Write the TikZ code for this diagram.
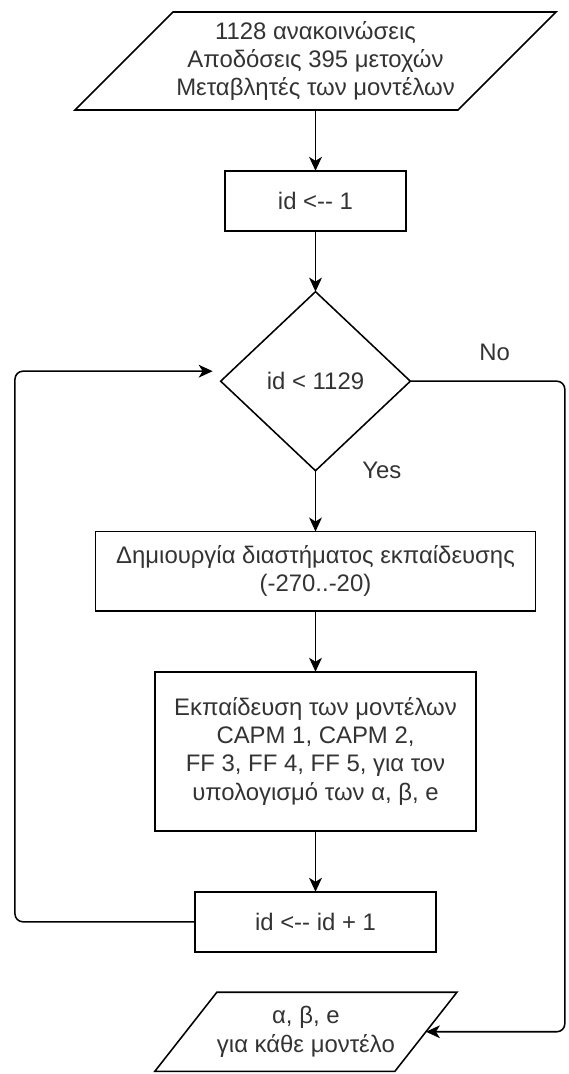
\documentclass[tikz,border=0pt]{standalone}
\usepackage{fontspec}
\setmainfont{Liberation Sans}
\usetikzlibrary{shapes.geometric, arrows.meta, positioning, calc}
\definecolor{darktext}{RGB}{51, 51, 51}
\definecolor{strokeline}{RGB}{0, 0, 0}
\newcommand{\ioframe}[2]{%
  \draw[shapeline] ($(#1.north west)+(#2,0)$) -- ($(#1.north east)+(#2,0)$)
    -- ($(#1.south east)+(-#2,0)$) -- ($(#1.south west)+(-#2,0)$) -- cycle;}

\begin{document}
\begin{tikzpicture}[x=0.025cm, y=-0.025cm, node distance=1.52cm,
    every node/.style={font=\fontsize{17}{20}\selectfont, text=darktext, align=center},
    shapeline/.style={draw=strokeline, line width=1.1pt},
    procbox/.style={rectangle, shapeline, inner sep=0pt, outer sep=0pt},
    iobox/.style={rectangle, inner sep=0pt, outer sep=0pt},
    decision/.style={diamond, shapeline, inner sep=0pt, outer sep=0pt},
    flow/.style={draw=strokeline, line width=1.1pt, -{Stealth[length=0.35cm, width=0.32cm, inset=0.1cm]}},
    lbl/.style={inner sep=0pt}]
    \useasboundingbox (0,0) rectangle (568,1074);

    \node[iobox, minimum width=9.575cm, minimum height=2.45cm] (in) at (315.5,61) {
        1128 ανακοινώσεις\\Αποδόσεις 395 μετοχών\\Μεταβλητές των μοντέλων};
    \node[procbox, minimum width=4.52cm, minimum height=1.5cm, below=of in] (init) {id <-{}- 1};
    \node[decision, minimum width=4.74cm, minimum height=4.475cm, below=of init] (dec) {id < 1129};
    \node[procbox, minimum width=11cm, minimum height=1.985cm, below=of dec] (win) {
        Δημιουργία διαστήματος εκπαίδευσης\\(-270..-20)};
    \node[procbox, minimum width=8.025cm, minimum height=3.98cm, below=of win] (train) {
        Εκπαίδευση των μοντέλων\\CAPM 1, CAPM 2,\\FF 3, FF 4, FF 5, για τον\\υπολογισμό των α, β, e};
    \node[procbox, minimum width=6.025cm, minimum height=1.5cm, below=of train] (inc) {id <-{}- id + 1};
    \node[iobox, minimum width=6cm, minimum height=1.975cm, below=1.01cm of inc, xshift=-0.24cm] (out) {
        α, β, e\\για κάθε μοντέλο};
    \ioframe{in}{49}
    \ioframe{out}{31}

    % flow
    \draw[flow] (in) -- (init);
    \draw[flow] (init) -- (dec);
    \draw[flow] (dec) -- (win) node[lbl, pos=0, anchor=west, xshift=1.15cm] {Yes};
    \draw[flow] (win) -- (train);
    \draw[flow] (train) -- (inc);
    \draw[flow, rounded corners=0.2cm] (inc.west) -- ++(-180,0) |- ($(dec.west)+(-8,-10)$);
    \draw[flow, rounded corners=0.2cm] (dec.east) -- ++(154.5,0) node[lbl, pos=0.545, yshift=0.73cm] {No} |- (out.east);
\end{tikzpicture}
\end{document}
